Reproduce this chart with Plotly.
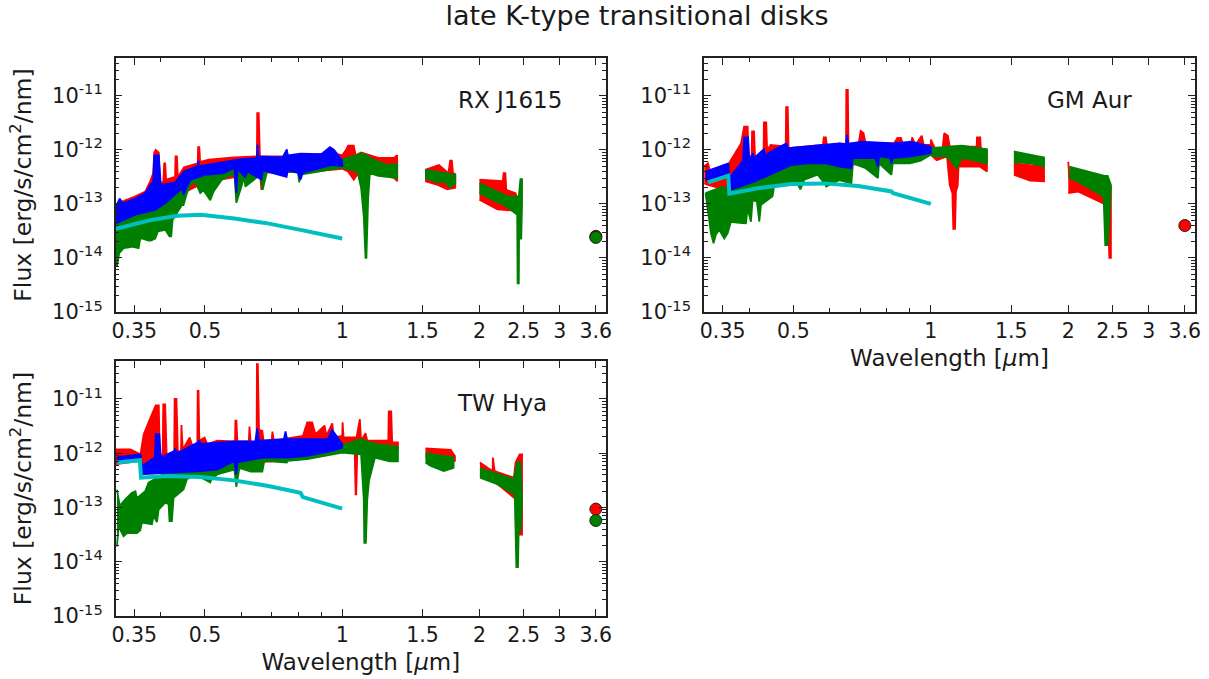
import plotly.graph_objects as go

X_TICKS = [0.35, 0.5, 1, 1.5, 2, 2.5, 3, 3.6]
X_TICK_TEXT = ["0.35", "0.5", "1", "1.5", "2", "2.5", "3", "3.6"]
X_MINOR = [0.4, 0.6, 0.7, 0.8, 0.9]
Y_TICKS = [1e-15, 1e-14, 1e-13, 1e-12, 1e-11]
Y_TICK_TEXT = ["10<sup>-15</sup>", "10<sup>-14</sup>", "10<sup>-13</sup>", "10<sup>-12</sup>", "10<sup>-11</sup>"]
Y_MINOR = [m * 10.0 ** e for e in range(-15, -10) for m in range(2, 10)]
STARS = ["RX J1615", "GM Aur", "TW Hya"]
PHOT_WAVE = 3.6

# All flux lists are log10(flux); wave lists trace the outline of each spectrum, None = gap.
# ---------- RX J1615 ----------
rx_red_w = [.319,.33,.35,.37,.379,.385,.387,.39,.396,.398,.405,.407,.409,.411,.43,.431,.434,.436,.45,.47,.482,.483,.486,.488,.51,.58,.65,.651,.656,.66,.70,.76,.85,.95,1.0,1.02,1.03,1.06,1.07,1.1,1.2,1.3,1.32,
            1.32,1.3,1.2,1.08,1.06,1.03,1.0,.85,.67,.665,.66,.5,.4,.319,None,
            1.52,1.63,1.71,1.725,1.74,1.75,1.77,1.77,1.7,1.62,1.52,None,
            2.0,2.19,2.25,2.26,2.28,2.29,2.4,2.47,2.45,2.35,2.19,2.0]
rx_red_f = [-13.05,-12.95,-12.87,-12.77,-12.59,-12.43,-12.05,-12.0,-12.05,-12.6,-12.6,-12.25,-12.25,-12.55,-12.5,-12.12,-12.12,-12.5,-12.32,-12.27,-12.25,-11.95,-11.95,-12.22,-12.18,-12.14,-12.12,-11.32,-11.32,-12.12,-12.12,-12.12,-12.1,-12.05,-12.1,-12.0,-11.92,-11.92,-12.1,-12.05,-12.15,-12.15,-12.1,
            -12.58,-12.52,-12.45,-12.45,-12.55,-12.4,-12.35,-12.4,-12.42,-12.74,-12.42,-12.6,-13.0,-13.5,None,
            -12.37,-12.28,-12.43,-12.2,-12.2,-12.43,-12.45,-12.7,-12.73,-12.65,-12.58,None,
            -12.55,-12.58,-12.58,-12.43,-12.43,-12.74,-12.8,-13.2,-13.2,-13.12,-13.1,-12.92]
rx_green_w = [.319,.4,.44,.5,.58,1.0,1.106,1.17,1.255,1.32,
              1.32,1.2,1.15,1.14,1.13,1.125,1.115,1.1,1.08,1.0,.81,.805,.80,.686,.669,.66,.652,.613,.61,.586,.58,
              .5728,.5447,.5223,.5136,.4965,.4882,.4761,.4642,.4565,.4487,.4451,.4245,.4217,.418,.4091,.3943,.3889,.3804,.3759,.3637,.3606,.3576,.3458,.3428,.3343,.3316,.3243,.3206,.319,None,
              1.52,1.77,1.77,1.72,1.69,1.6,1.52,None,
              2.0,2.3,2.44,2.46,2.48,2.48,2.47,2.45,2.445,2.44,2.425,2.42,2.3,2.0]
rx_green_f = [-13.1,-12.9,-12.6,-12.4,-12.3,-12.18,-12.06,-12.18,-12.28,-12.26,
              -12.52,-12.48,-12.43,-12.9,-14.0,-14.0,-13.23,-12.7,-12.4,-12.33,-12.46,-12.6,-12.42,-12.37,-12.74,-12.4,-12.5,-12.68,-12.5,-12.98,-12.43,
              -12.46,-12.55,-12.77,-12.93,-12.75,-12.8,-12.59,-12.65,-12.8,-13.02,-13.02,-13.3,-13.6,-13.6,-13.48,-13.51,-13.64,-13.68,-13.68,-13.64,-13.64,-13.82,-13.79,-13.8,-13.82,-13.82,-13.91,-14.16,-14.1,None,
              -12.37,-12.46,-12.62,-12.7,-12.6,-12.59,-12.52,None,
              -12.62,-12.86,-12.86,-12.54,-12.54,-13.0,-13.64,-13.64,-13.05,-14.47,-14.47,-13.2,-13.05,-12.8]
rx_blue_w = [.319,.325,.33,.352,.37,.379,.385,.387,.396,.40,.43,.45,.482,.484,.486,.6,.65,.652,.655,.74,.756,.76,.81,.9,.94,.96,1.0,
             1.0,.95,.82,.81,.8,.76,.755,.67,.665,.62,.612,.59,.586,.58,.55,.5,.464,.453,.4487,.445,.409,.389,.352,.319]
rx_blue_f = [-13.05,-12.9,-12.99,-12.9,-12.8,-12.65,-12.6,-12.1,-12.1,-12.65,-12.6,-12.4,-12.3,-12.2,-12.3,-12.17,-12.15,-11.9,-12.12,-12.14,-11.99,-12.1,-12.07,-12.08,-11.95,-12.0,-12.2,
             -12.3,-12.28,-12.42,-12.55,-12.42,-12.38,-12.5,-12.38,-12.55,-12.4,-12.5,-12.35,-12.8,-12.33,-12.43,-12.46,-12.56,-12.74,-12.83,-12.71,-12.99,-13.11,-13.2,-13.36]
rx_cyan_w = [.319,.38,.435,.49,.58,.686,.81,1.0]
rx_cyan_f = [-13.46,-13.3,-13.22,-13.2,-13.27,-13.36,-13.48,-13.64]

# ---------- GM Aur ----------
gm_red_w = [.319,.325,.33,.36,.363,.384,.39,.397,.399,.405,.406,.41,.412,.43,.431,.436,.438,.446,.481,.482,.486,.488,.58,.583,.589,.592,.625,.632,.64,.652,.653,.658,.66,.695,.702,.712,.72,.83,.845,.86,.87,.905,.91,.925,.955,.965,1.0,1.0,1.025,1.06,1.07,1.09,1.1,1.17,1.26,1.262,1.283,1.287,1.327,
            1.327,1.28,1.15,1.145,1.135,1.13,1.12,1.115,1.1,1.085,1.03,1.0,.9,.6,.37,.36,.325,.319,None,
            1.52,1.76,1.77,1.77,1.65,1.52,None,
            2.0,2.01,2.4,2.47,2.48,2.48,2.46,2.44,2.4,2.1,2.0]
gm_red_f = [-12.3,-12.25,-12.46,-12.43,-12.22,-11.88,-11.57,-11.57,-12.12,-12.12,-11.66,-11.66,-12.12,-12.12,-11.49,-11.49,-12.0,-11.91,-11.94,-11.21,-11.21,-11.97,-11.91,-11.77,-11.77,-11.91,-11.91,-11.88,-11.91,-11.91,-10.89,-10.89,-11.88,-11.88,-11.65,-11.69,-11.88,-11.88,-11.78,-11.78,-11.91,-11.91,-11.77,-11.91,-11.74,-11.91,-11.91,-11.81,-12.0,-12.0,-11.69,-11.74,-11.94,-11.94,-11.94,-11.77,-11.77,-11.97,-12.0,
            -12.4,-12.31,-12.31,-12.67,-12.77,-13.46,-13.46,-12.8,-12.65,-12.12,-12.19,-12.09,-12.2,-12.3,-12.65,-12.75,-12.65,-12.62,None,
            -12.25,-12.31,-12.31,-12.58,-12.57,-12.46,None,
            -12.22,-12.52,-12.74,-12.68,-12.68,-14.0,-14.0,-13.05,-13.0,-12.77,-12.8]
gm_green_w = [.321,.35,.36,.368,.415,.453,.585,1.0,1.17,1.327,
              1.327,1.17,1.14,1.115,1.085,1.015,1.0,.95,.9,.825,.82,.77,.766,.72,.675,.67,.63,.59,.585,
              .5652,.5285,.518,.512,.4776,.454,.4502,.4246,.421,.4161,.4071,.4036,.397,.3936,.3804,.3649,.359,.3529,.3439,.3382,.3343,.3298,.3271,.321,None,
              1.52,1.77,1.77,1.66,1.52,None,
              2.01,2.4,2.44,2.48,2.47,2.44,2.41,2.39,2.1,2.01]
gm_green_f = [-12.8,-12.68,-12.74,-12.62,-12.49,-12.31,-12.06,-11.97,-11.92,-11.99,
              -12.25,-12.15,-12.34,-12.25,-12.12,-12.12,-12.09,-12.2,-12.25,-12.25,-12.46,-12.25,-12.52,-12.34,-12.25,-12.62,-12.56,-12.68,-12.62,
              -12.46,-12.55,-12.73,-12.65,-12.62,-12.65,-12.86,-13.02,-13.33,-12.96,-12.93,-13.33,-13.08,-13.36,-13.35,-13.33,-13.54,-13.64,-13.48,-13.57,-13.73,-13.54,-13.3,-12.8,None,
              -12.03,-12.14,-12.31,-12.25,-12.23,None,
              -12.31,-12.48,-12.48,-12.65,-12.99,-13.76,-13.76,-12.86,-12.59,-12.52]
gm_blue_w = [.321,.36,.362,.388,.39,.398,.40,.406,.407,.41,.431,.436,.44,.462,.483,.487,.585,.63,.652,.655,.66,.705,.83,.907,1.0,
             1.0,.905,.825,.82,.815,.77,.766,.755,.675,.67,.63,.59,.538,.495,.45,.41,.364,.362,.321]
gm_blue_f = [-12.4,-12.25,-12.52,-12.2,-11.77,-11.77,-12.15,-12.11,-12.06,-12.15,-11.99,-12.15,-12.06,-11.97,-11.88,-11.97,-11.91,-11.88,-11.89,-11.72,-11.89,-11.85,-11.88,-11.85,-11.94,
             -12.06,-12.12,-12.15,-12.25,-12.15,-12.12,-12.31,-12.15,-12.15,-12.34,-12.31,-12.25,-12.25,-12.28,-12.43,-12.59,-12.74,-12.46,-12.56]
gm_cyan_w = [.325,.36,.362,.418,.495,.585,.693,.82,.827,1.0]
gm_cyan_f = [-12.6,-12.48,-12.81,-12.71,-12.63,-12.62,-12.67,-12.77,-12.8,-13.0]

# ---------- TW Hya ----------
tw_red_w = [.319,.343,.361,.367,.38,.39,.396,.398,.404,.405,.409,.412,.428,.429,.433,.436,.443,.444,.447,.463,.469,.481,.482,.484,.486,.499,.506,.532,.582,.583,.586,.589,.624,.626,.63,.649,.65,.653,.657,.668,.673,.7,.703,.708,.82,.838,.859,.874,.915,.923,.951,.959,1.0,1.002,1.007,1.075,1.093,1.1,1.125,1.135,1.262,1.265,1.281,1.287,1.325,
            1.325,1.135,1.125,1.095,1.08,1.073,1.07,1.065,1.0,.95,.7,.41,.367,.361,.319,None,
            1.523,1.73,1.767,1.767,1.66,1.523,None,
            2.005,2.13,2.138,2.14,2.16,2.38,2.40,2.45,2.48,2.48,2.45,2.43,2.19,2.005]
tw_red_f = [-11.93,-11.93,-12.02,-11.65,-11.34,-11.12,-11.12,-12.02,-12.02,-11.1,-11.1,-12.02,-12.02,-11.0,-11.0,-11.96,-11.96,-11.48,-11.93,-11.71,-11.86,-11.86,-10.85,-10.85,-11.77,-11.71,-11.83,-11.77,-11.78,-11.4,-11.4,-11.78,-11.78,-11.51,-11.8,-11.8,-10.36,-10.36,-11.57,-11.59,-11.8,-11.8,-11.6,-11.77,-11.68,-11.43,-11.43,-11.65,-11.49,-11.68,-11.45,-11.71,-11.68,-11.43,-11.71,-11.71,-11.37,-11.77,-11.63,-11.77,-11.77,-11.23,-11.23,-11.8,-11.8,
            -11.93,-11.9,-12.14,-11.9,-11.9,-12.76,-12.76,-11.95,-11.95,-12.0,-12.15,-12.3,-12.2,-12.14,-12.2,None,
            -11.91,-11.94,-12.05,-12.14,-12.14,-12.08,None,
            -12.17,-12.33,-12.33,-12.08,-12.33,-12.45,-12.17,-12.02,-12.02,-13.5,-13.5,-12.88,-12.57,-12.39]
tw_green_w = [.3206,.3252,.3343,.3458,.352,.3546,.3698,.3759,.399,.413,.489,.58,.96,1.0,1.1,1.18,1.325,
              1.325,1.27,1.18,1.145,1.135,1.127,1.118,1.115,1.1,1.0,.838,.76,.756,.675,.668,.63,.595,.586,.58,.532,.514,
              .5177,.5136,.4761,.4565,.4487,.4267,.4231,.418,.4161,.4091,.3957,.3924,.3857,.3825,.3637,.3606,.3546,.3373,.3316,.3232,.3206,None,
              1.523,1.755,1.755,1.67,1.56,1.523,None,
              2.005,2.38,2.42,2.46,2.48,2.46,2.44,2.43,2.41,2.39,2.19,2.005]
tw_green_f = [-12.67,-12.97,-12.85,-12.73,-12.7,-12.83,-12.7,-12.54,-12.42,-12.33,-12.14,-11.96,-11.83,-11.85,-11.74,-11.83,-11.88,
              -12.15,-12.15,-12.08,-12.51,-12.85,-13.65,-13.65,-12.85,-12.02,-11.99,-12.11,-12.14,-12.17,-12.14,-12.34,-12.34,-12.27,-12.62,-12.3,-12.39,-12.51,
              -12.45,-12.54,-12.39,-12.48,-12.67,-12.82,-13.25,-13.25,-12.94,-12.91,-13.04,-13.27,-13.16,-13.31,-13.28,-13.42,-13.47,-13.47,-13.53,-13.35,-13.72,None,
              -12.0,-12.08,-12.27,-12.33,-12.23,-12.17,None,
              -12.28,-12.48,-12.17,-12.17,-12.88,-13.44,-13.25,-14.1,-14.1,-12.76,-12.57,-12.45]
tw_blue_w = [.321,.361,.364,.388,.39,.397,.40,.428,.43,.436,.483,.485,.49,.58,.645,.651,.657,.745,.751,.757,.865,.93,.95,1.0,
             1.0,.943,.838,.76,.67,.589,.586,.58,.532,.489,.413,.361,.359,.321]
tw_blue_f = [-12.07,-12.02,-12.23,-12.08,-11.65,-11.65,-12.08,-11.96,-11.93,-11.99,-11.8,-11.76,-11.83,-11.78,-11.78,-11.54,-11.77,-11.74,-11.6,-11.74,-11.74,-11.74,-11.57,-11.83,
             -11.9,-11.96,-12.05,-12.08,-12.08,-12.17,-12.39,-12.14,-12.3,-12.33,-12.36,-12.39,-12.11,-12.15]
tw_cyan_w = [.321,.36,.362,.413,.489,.579,.684,.81,.82,1.0]
tw_cyan_f = [-12.17,-12.13,-12.45,-12.42,-12.44,-12.5,-12.6,-12.73,-12.81,-13.02]

# Photometry at 3.6 um
rx_phot_red, rx_phot_green = -13.6, -13.62
gm_phot_red = -13.4
tw_phot_red, tw_phot_green = -13.03, -13.24

RED, GREEN, BLUE, CYAN = "#ff0000", "#008000", "#0000ff", "#00bfbf"


def lin(vals):
    return [None if v is None else 10.0 ** v for v in vals]


fig = go.Figure()


def band(w, f, color, ax):
    assert len(w) == len(f), (len(w), len(f), color, ax)
    fig.add_trace(go.Scatter(x=w, y=lin(f), mode="lines", fill="toself", fillcolor=color,
                             line=dict(color=color, width=1.8), xaxis="x" + ax, yaxis="y" + ax,
                             showlegend=False, hoverinfo="skip"))


def curve(w, f, ax):
    assert len(w) == len(f)
    fig.add_trace(go.Scatter(x=w, y=lin(f), mode="lines", line=dict(color=CYAN, width=4),
                             xaxis="x" + ax, yaxis="y" + ax, showlegend=False, hoverinfo="skip"))


def phot(v, color, ax):
    fig.add_trace(go.Scatter(x=[PHOT_WAVE], y=[10.0 ** v], mode="markers",
                             marker=dict(color=color, size=12, line=dict(color="#222222", width=1)),
                             xaxis="x" + ax, yaxis="y" + ax, showlegend=False, hoverinfo="skip"))


for ax, sets, curv, pts in [
    ("", [(rx_red_w, rx_red_f, RED), (rx_green_w, rx_green_f, GREEN), (rx_blue_w, rx_blue_f, BLUE)],
     (rx_cyan_w, rx_cyan_f), [(rx_phot_red, RED), (rx_phot_green, GREEN)]),
    ("2", [(gm_red_w, gm_red_f, RED), (gm_green_w, gm_green_f, GREEN), (gm_blue_w, gm_blue_f, BLUE)],
     (gm_cyan_w, gm_cyan_f), [(gm_phot_red, RED)]),
    ("3", [(tw_red_w, tw_red_f, RED), (tw_green_w, tw_green_f, GREEN), (tw_blue_w, tw_blue_f, BLUE)],
     (tw_cyan_w, tw_cyan_f), [(tw_phot_red, RED), (tw_phot_green, GREEN)]),
]:
    for w, f, c in sets:
        band(w, f, c, ax)
    curve(curv[0], curv[1], ax)
    for v, c in pts:
        phot(v, c, ax)

W, H = 1209, 679
INK = "#1a1a1a"
FONT = "DejaVu Sans"


def xaxis(left, right, anchor, title):
    return dict(type="log", domain=[left / W, right / W], anchor=anchor, automargin=False,
                range=[-0.4968, 0.5786], tickmode="array", tickvals=X_TICKS, ticktext=X_TICK_TEXT,
                ticks="inside", ticklen=7, tickwidth=1, tickcolor="#222222",
                minor=dict(tickmode="array", tickvals=X_MINOR, ticks="inside", ticklen=4, tickwidth=1, tickcolor="#222222"),
                showline=True, linecolor="#222222", linewidth=1.5, mirror="allticks", showgrid=False, zeroline=False,
                tickangle=0, tickfont=dict(size=20.5, family=FONT, color=INK),
                title=dict(text=title, font=dict(size=23, family=FONT, color=INK), standoff=8))


def yaxis(top, bottom, anchor, title):
    return dict(type="log", domain=[1 - bottom / H, 1 - top / H], anchor=anchor, automargin=False,
                range=[-15, -10.3], tickmode="array", tickvals=Y_TICKS, ticktext=Y_TICK_TEXT,
                ticks="inside", ticklen=7, tickwidth=1, tickcolor="#222222", ticklabelstandoff=7,
                minor=dict(tickmode="array", tickvals=Y_MINOR, ticks="inside", ticklen=4, tickwidth=1, tickcolor="#222222"),
                showline=True, linecolor="#222222", linewidth=1.5, mirror="allticks", showgrid=False, zeroline=False,
                tickfont=dict(size=21, family=FONT, color=INK),
                title=dict(text=title, font=dict(size=23.5, family=FONT, color=INK), standoff=14))


FLUX = "Flux [erg/s/cm<sup>2</sup>/nm]"
WAVE = "Wavelength [<i>μ</i>m]"


def label(text, px, py):
    return dict(text=text, x=px / W, y=1 - py / H, xref="paper", yref="paper", showarrow=False,
                xanchor="center", yanchor="middle", font=dict(size=23, family=FONT, color=INK))


fig.update_layout(
    width=W, height=H, margin=dict(l=0, r=0, t=0, b=0), autosize=False,
    paper_bgcolor="white", plot_bgcolor="white", showlegend=False,
    font=dict(family=FONT, color=INK),
    title=dict(text="late K-type transitional disks", x=637 / W, xanchor="center", y=1 - 16 / H, yanchor="middle",
               automargin=False, font=dict(size=27, family=FONT, color=INK)),
    xaxis=xaxis(115.7, 606, "y", None),
    yaxis=yaxis(58, 312, "x", FLUX),
    xaxis2=xaxis(704, 1195, "y2", WAVE),
    yaxis2=yaxis(58, 312, "x2", None),
    xaxis3=xaxis(115.7, 606, "y3", WAVE),
    yaxis3=yaxis(361, 616, "x3", FLUX),
    annotations=[label(STARS[0], 510, 100), label(STARS[1], 1089, 100), label(STARS[2], 502, 403)],
)

fig.write_html("out.html", config=dict(displayModeBar=False),
               post_script="document.body.style.margin='0';document.body.style.overflow='hidden';")
